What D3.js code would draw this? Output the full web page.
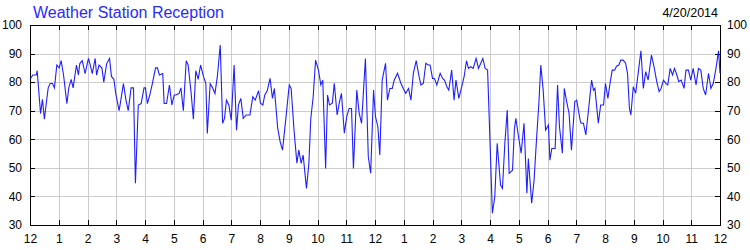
<!DOCTYPE html>
<html>
<head>
<meta charset="utf-8">
<script src="https://cdn.jsdelivr.net/npm/d3@7"></script>
<style>
  body { margin: 0; background: #fff; }
  svg { display: block; font-family: "Liberation Sans", Arial, sans-serif; }
  .axis text { font-size: 12px; fill: #000; }
  .axis path, .axis line { stroke: #000; shape-rendering: crispEdges; }
  .grid line { stroke: #cccccc; shape-rendering: crispEdges; }
  .grid path { display: none; }
</style>
</head>
<body>
<svg id="chart"></svg>
<script>
// signal readings: minutes after midnight and reception value
let minutes = [
  0, 6, 13, 15, 22, 26, 30, 35, 38, 42, 47, 51, 56, 61, 65, 70, 77, 81, 86, 90,
  97, 101, 104, 109, 115, 122, 125, 130, 136, 139, 144, 150, 154, 160, 166, 170, 175, 179, 186, 195,
  200, 205, 211, 216, 220, 226, 232, 238, 241, 245, 250, 256, 262, 266, 270, 277, 280, 285, 291, 296,
  301, 304, 311, 315, 320, 326, 330, 336, 341, 346, 351, 356, 362, 367, 370, 376, 381, 386, 391, 397,
  402, 406, 410, 415, 420, 426, 431, 435, 440, 445, 451, 459, 465, 470, 477, 481, 486, 490, 495, 501,
  506, 510, 517, 522, 527, 534, 541, 545, 551, 557, 561, 566, 570, 577, 582, 586, 591, 596, 602, 607,
  611, 617, 621, 625, 631, 635, 641, 646, 650, 656, 661, 666, 671, 675, 682, 687, 692, 700, 706, 711,
  717, 721, 726, 730, 735, 742, 746, 751, 756, 760, 767, 774, 779, 784, 790, 795, 800, 806, 812, 816,
  821, 826, 831, 835, 840, 844, 849, 856, 861, 865, 870, 874, 880, 885, 889, 895, 901, 906, 911, 915,
  920, 925, 931, 936, 945, 950, 955, 965, 970, 975, 982, 986, 991, 996, 1000, 1007, 1011, 1014, 1019, 1025,
  1031, 1037, 1040, 1047, 1052, 1057, 1062, 1066, 1071, 1076, 1082, 1085, 1089, 1096, 1101, 1105, 1111, 1115, 1120, 1125,
  1130, 1137, 1141, 1148, 1150, 1155, 1160, 1167, 1172, 1176, 1179, 1186, 1191, 1197, 1201, 1206, 1210, 1215, 1220, 1224,
  1229, 1233, 1238, 1243, 1247, 1251, 1254, 1259, 1264, 1270, 1275, 1280, 1285, 1290, 1297, 1303, 1308, 1313, 1317, 1322,
  1327, 1331, 1336, 1341, 1345, 1350, 1354, 1359, 1365, 1369, 1374, 1379, 1384, 1390, 1395, 1400, 1405, 1410, 1416, 1421,
  1426, 1431, 1437, 1440
];
let signal = [
  81, 82.5, 82.5, 84, 69, 74, 67, 74, 78, 79.5, 79.5, 78, 86, 85, 87.5, 82.5, 72.5, 78, 81, 78,
  86, 82.5, 86.5, 87.5, 83, 88.3, 86.5, 83, 88.3, 82.5, 86, 85, 80, 86.5, 88.3, 82, 81, 76, 70, 79.5,
  74, 70, 78, 78, 44.6, 72, 72.5, 78, 78, 72.5, 75.5, 80, 85, 85, 82.5, 83, 72.5, 72.5, 79, 72,
  75.5, 75.5, 76, 78, 70, 87.5, 86, 76.7, 67, 84, 81, 86, 82, 79.5, 62, 79.5, 78, 76, 82, 93,
  65.6, 67.3, 73.7, 72, 66.7, 86, 63.2, 72, 74.3, 67.3, 68.5, 68.5, 74.9, 73.7, 77, 72.6, 72, 75.5, 77, 81.3,
  74.3, 77.8, 63.8, 59.2, 56.2, 67.3, 79, 77.8, 63.2, 51.6, 56.2, 51.6, 54.5, 42.8, 51.6, 67.3, 74.9, 87.7, 84.2, 79,
  80.7, 49.8, 75.5, 72, 72.6, 79.6, 68.5, 73.2, 76.1, 62.1, 67.9, 70.8, 70.8, 49.8, 77.2, 69.1, 65.6, 88.3, 53.9, 48.1,
  77.2, 67.9, 64.4, 54.5, 80.7, 86.6, 73.7, 77.8, 77.8, 80.7, 83.1, 79.6, 77.8, 76.1, 77.8, 73.7, 83.1, 87.5, 81.9, 79,
  79.6, 86.6, 86, 86, 81.3, 81.3, 79, 83.1, 81.3, 80.7, 78.4, 77.2, 84.2, 73.7, 80.7, 74.3, 78.4, 81.9, 87.5, 84.8,
  85.4, 84.8, 88.3, 84.8, 88.3, 84.8, 84.2, 34.1, 39.9, 58.6, 44, 42.8, 58.6, 70.2, 48.1, 49.2, 63.8, 67.3, 61.5, 55.1,
  65.6, 41.1, 53.3, 37.6, 45.7, 59.7, 72.6, 86, 77.2, 63.2, 65, 52.7, 56.8, 56.8, 79, 64.4, 55.1, 77.8, 73.2, 69.1,
  56.2, 73.2, 73.7, 66.7, 65.6, 65.6, 61.5, 72.6, 80.7, 77.2, 77.8, 65.6, 72, 72, 79.6, 74.3, 79, 84.2, 84.2, 85.6,
  86, 87.7, 87.7, 86.6, 83.1, 70.8, 68.5, 78.4, 76.1, 84.2, 91, 77.8, 83.7, 80.7, 89.5, 84.8, 80.2, 76.7, 77.8, 80.7,
  79.6, 79, 84.8, 82.5, 84.8, 82.5, 80.2, 80.7, 77.8, 84.2, 84.2, 80.7, 84.8, 79, 84.8, 84.2, 77.8, 75.5, 83.1, 77.8,
  79.6, 84.2, 91, 83.1
];
let hourLabels = [12, 1, 2, 3, 4, 5, 6, 7, 8, 9, 10, 11, 12, 1, 2, 3, 4, 5, 6, 7, 8, 9, 10, 11, 12];
let yTicks = [30, 40, 50, 60, 70, 80, 90, 100];
let title = 'Weather Station Reception';
let dateLabel = '4/20/2014';

const W = 750, H = 250;
const margin = {top: 25, right: 30, bottom: 25, left: 30};
const w = W - margin.left - margin.right;
const h = H - margin.top - margin.bottom;

const svg = d3.select('#chart').attr('width', W).attr('height', H);
const g = svg.append('g').attr('transform', `translate(${margin.left},${margin.top})`);

const hours = hourLabels.map((d, i) => i);
const x = d3.scaleLinear().domain([0, 24]).range([0, w]);
const y = d3.scaleLinear().domain([30, 100]).range([h, 0]);

// grid
g.append('g').attr('class', 'grid')
  .call(d3.axisBottom(x).tickValues(hours).tickSize(h).tickFormat(''));
g.append('g').attr('class', 'grid')
  .call(d3.axisLeft(y).tickValues(yTicks).tickSize(-w).tickFormat(''));

// axes, ticks pointing inward
g.append('g').attr('class', 'axis')
  .call(d3.axisTop(x).tickValues(hours).tickSizeInner(-5).tickSizeOuter(0).tickFormat(''));
g.append('g').attr('class', 'axis')
  .attr('transform', `translate(0,${h})`)
  .call(d3.axisBottom(x).tickValues(hours).tickSizeInner(-5).tickSizeOuter(0)
    .tickPadding(9).tickFormat((d, i) => hourLabels[i]));
g.append('g').attr('class', 'axis')
  .call(d3.axisLeft(y).tickValues(yTicks).tickSizeInner(-5).tickSizeOuter(0).tickPadding(8));
g.append('g').attr('class', 'axis')
  .attr('transform', `translate(${w},0)`)
  .call(d3.axisRight(y).tickValues(yTicks).tickSizeInner(-5).tickSizeOuter(0).tickPadding(7));

// series
const pts = minutes.map((m, i) => [m / 60, signal[i]]);
g.append('path')
  .datum(pts)
  .attr('fill', 'none')
  .attr('stroke', '#1f1fff')
  .attr('stroke-width', 1.1)
  .attr('d', d3.line().x(d => x(d[0])).y(d => y(d[1])));

// headings
svg.append('text')
  .attr('x', 33).attr('y', 18)
  .attr('font-size', 16).attr('fill', '#2a2aff')
  .text(title);
svg.append('text')
  .attr('x', 718).attr('y', 17)
  .attr('text-anchor', 'end')
  .attr('font-size', 12.5).attr('fill', '#000')
  .text(dateLabel);
</script>
</body>
</html>
